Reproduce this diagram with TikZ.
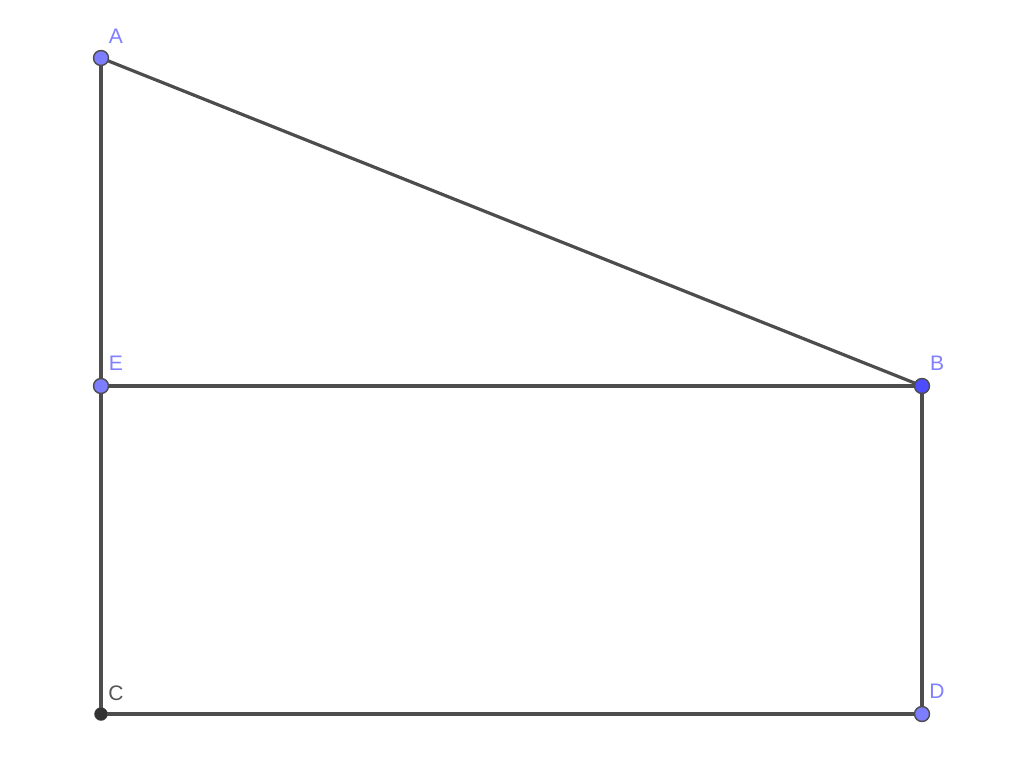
\documentclass[tikz,border=0pt]{standalone}
\usepackage{fontspec}
\setmainfont{Liberation Sans}
\definecolor{seg}{HTML}{4D4D4D}
\definecolor{ptlight}{HTML}{7D7DFF}
\definecolor{ptdark}{HTML}{4D4DFF}
\definecolor{lbl}{HTML}{7F7FFF}
\definecolor{lblgray}{HTML}{555555}
\begin{document}
\begin{tikzpicture}[x=1pt,y=-1pt,
  segline/.style={draw=seg,line width=3.2pt},
  pt/.style={circle,draw=black!70,line width=1.4pt,minimum size=15pt,inner sep=0pt,fill=ptlight},
  lab/.style={font=\fontsize{21}{21}\selectfont,text=lbl,inner sep=0pt}]
\useasboundingbox (0,0) rectangle (1024,779);
\coordinate (A) at (101,58);
\coordinate (E) at (101,386);
\coordinate (B) at (922,386);
\coordinate (C) at (101,714);
\coordinate (D) at (922,714);
\draw[segline] (A) -- (B);
\draw[segline] (A) -- (E);
\draw[segline] (E) -- (C);
\draw[segline] (E) -- (B);
\draw[segline] (B) -- (D);
\draw[segline] (C) -- (D);
\node[pt] (pA) at (A) {};
\node[pt] (pE) at (E) {};
\node[pt,fill=ptdark] (pB) at (B) {};
\node[pt,fill=ptlight] (pD) at (D) {};
\node[circle,fill=black!80,draw=black!70,minimum size=13pt,inner sep=0pt] (pC) at (C) {};
\node[lab] (lA) at (116,36) {A};
\node[lab] (lE) at (116,363) {E};
\node[lab] (lB) at (937,363) {B};
\node[lab,text=lblgray] (lC) at (116,693) {C};
\node[lab] (lD) at (937,691) {D};
\end{tikzpicture}
\end{document}
